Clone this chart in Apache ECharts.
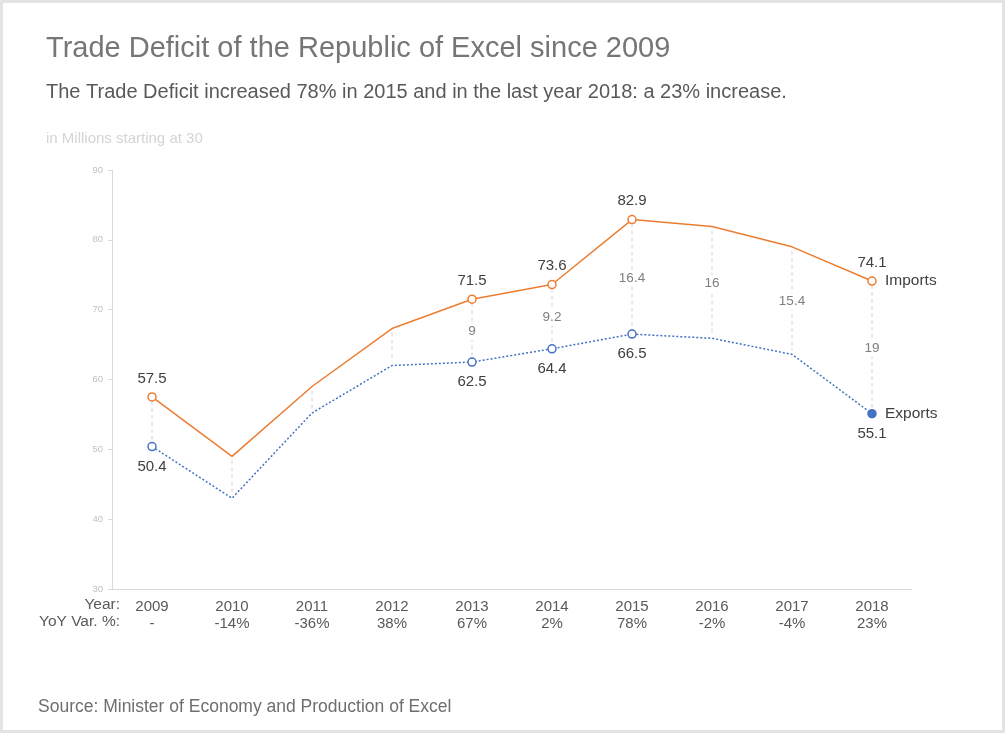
<!DOCTYPE html>
<html>
<head>
<meta charset="utf-8">
<script src="https://cdn.jsdelivr.net/npm/echarts@6/dist/echarts.min.js"></script>
<style>
  body { margin: 0; background: #fff; }
  #main { width: 1005px; height: 733px; }
</style>
</head>
<body>
<div id="main"></div>
<script>
// data
var years = ['2009', '2010', '2011', '2012', '2013', '2014', '2015', '2016', '2017', '2018'];
var yoyVar = ['-', '-14%', '-36%', '38%', '67%', '2%', '78%', '-2%', '-4%', '23%'];
var imports = [57.5, 49.0, 59.0, 67.3, 71.5, 73.6, 82.9, 81.9, 79.0, 74.1];
var exports = [50.4, 43.0, 55.2, 62.0, 62.5, 64.4, 66.5, 65.9, 63.6, 55.1];
var markedYears = ['2009', '2013', '2014', '2015', '2018'];
var gapLabelYears = ['2013', '2014', '2015', '2016', '2017', '2018'];

var orange = '#ED7D31';
var blue = '#4472C4';
var font = 'Liberation Sans, Arial, sans-serif';

function lineData(values, filledLast) {
    return values.map(function (v, i) {
        var marked = markedYears.indexOf(years[i]) >= 0;
        var item = { value: v, symbol: marked ? 'circle' : 'none', label: { show: marked } };
        if (filledLast && i === values.length - 1) {
            item.itemStyle = { color: blue, borderColor: blue };
        }
        return item;
    });
}

var gapData = years.map(function (y, i) {
    var d = Math.round((imports[i] - exports[i]) * 10) / 10;
    return [i, imports[i], exports[i], gapLabelYears.indexOf(y) >= 0 ? String(d) : ''];
});

var myChart = echarts.init(document.getElementById('main'));
var option = {
    backgroundColor: '#fff',
    animation: false,
    textStyle: { fontFamily: font },
    title: [
        {
            text: 'Trade Deficit of the Republic of Excel since 2009',
            left: 46, top: 34, padding: 0,
            textStyle: { fontSize: 29, fontWeight: 'normal', color: '#767676' }
        },
        {
            text: 'The Trade Deficit increased 78% in 2015 and in the last year 2018: a 23% increase.',
            left: 46, top: 82, padding: 0,
            textStyle: { fontSize: 20, fontWeight: 'normal', color: '#595959' }
        },
        {
            text: 'in Millions starting at 30',
            left: 46, top: 131, padding: 0,
            textStyle: { fontSize: 15, fontWeight: 'normal', color: '#d4d4d4' }
        },
        {
            text: 'Source: Minister of Economy and Production of Excel',
            left: 38, top: 698, padding: 0,
            textStyle: { fontSize: 17.5, fontWeight: 'normal', color: '#6e6e6e' }
        }
    ],
    graphic: [
        {
            type: 'rect', silent: true, z: 100,
            shape: { x: 0, y: 0, width: 1005, height: 733 },
            style: { fill: 'none', stroke: '#e3e3e3', lineWidth: 6 }
        },
        {
            type: 'text', right: 885, top: 597,
            style: { text: 'Year:', font: '15.5px ' + font, fill: '#595959', textAlign: 'right' }
        },
        {
            type: 'text', right: 885, top: 614,
            style: { text: 'YoY Var. %:', font: '15.5px ' + font, fill: '#595959', textAlign: 'right' }
        }
    ],
    grid: { left: 112, right: 93, top: 170, bottom: 144 },
    xAxis: {
        type: 'category',
        data: years,
        boundaryGap: true,
        axisLine: { lineStyle: { color: '#d9d9d9' } },
        axisTick: { show: false },
        axisLabel: {
            margin: 9,
            fontSize: 15,
            lineHeight: 17,
            color: '#595959',
            formatter: function (v, i) { return v + '\n' + yoyVar[i]; }
        }
    },
    yAxis: {
        type: 'value',
        min: 30, max: 90, interval: 10,
        splitLine: { show: false },
        axisLine: { show: true, lineStyle: { color: '#d9d9d9' } },
        axisTick: { show: true, length: 4, lineStyle: { color: '#d9d9d9' } },
        axisLabel: { fontSize: 9.5, color: '#c0c0c0', margin: 9 }
    },
    series: [
        {
            type: 'custom',
            name: 'gap',
            z: 1,
            silent: true,
            encode: { x: 0, y: [1, 2] },
            data: gapData,
            renderItem: function (params, api) {
                var top = api.coord([api.value(0), api.value(1)]);
                var bot = api.coord([api.value(0), api.value(2)]);
                var txt = gapData[params.dataIndex][3];
                var children = [{
                    type: 'line',
                    shape: { x1: top[0], y1: top[1] + 4, x2: bot[0], y2: bot[1] - 4 },
                    style: { stroke: '#d4d4d4', lineWidth: 1, lineDash: [4, 3] }
                }];
                if (txt) {
                    children.push({
                        type: 'text',
                        style: {
                            text: txt, x: top[0], y: (top[1] + bot[1]) / 2 + 1,
                            textAlign: 'center', textVerticalAlign: 'middle',
                            font: '13.5px ' + font, fill: '#7f7f7f',
                            backgroundColor: '#fff', padding: [1, 0]
                        }
                    });
                }
                return { type: 'group', children: children };
            }
        },
        {
            name: 'Imports',
            type: 'line',
            z: 3,
            data: lineData(imports, false),
            symbolSize: 8,
            itemStyle: { color: '#fff', borderColor: orange, borderWidth: 1.5 },
            lineStyle: { color: orange, width: 1.5 },
            label: { position: 'top', distance: 6, fontSize: 15, color: '#404040' },
            endLabel: {
                show: true, formatter: '{a}', distance: 13,
                fontSize: 15.5, color: '#404040'
            }
        },
        {
            name: 'Exports',
            type: 'line',
            z: 3,
            data: lineData(exports, true),
            symbolSize: 8,
            itemStyle: { color: '#fff', borderColor: blue, borderWidth: 1.5 },
            lineStyle: { color: blue, width: 1.5, type: [2, 2] },
            label: { position: 'bottom', distance: 8, fontSize: 15, color: '#404040' },
            endLabel: {
                show: true, formatter: '{a}', distance: 13,
                fontSize: 15.5, color: '#404040'
            }
        }
    ]
};
myChart.setOption(option, true);
</script>
</body>
</html>
